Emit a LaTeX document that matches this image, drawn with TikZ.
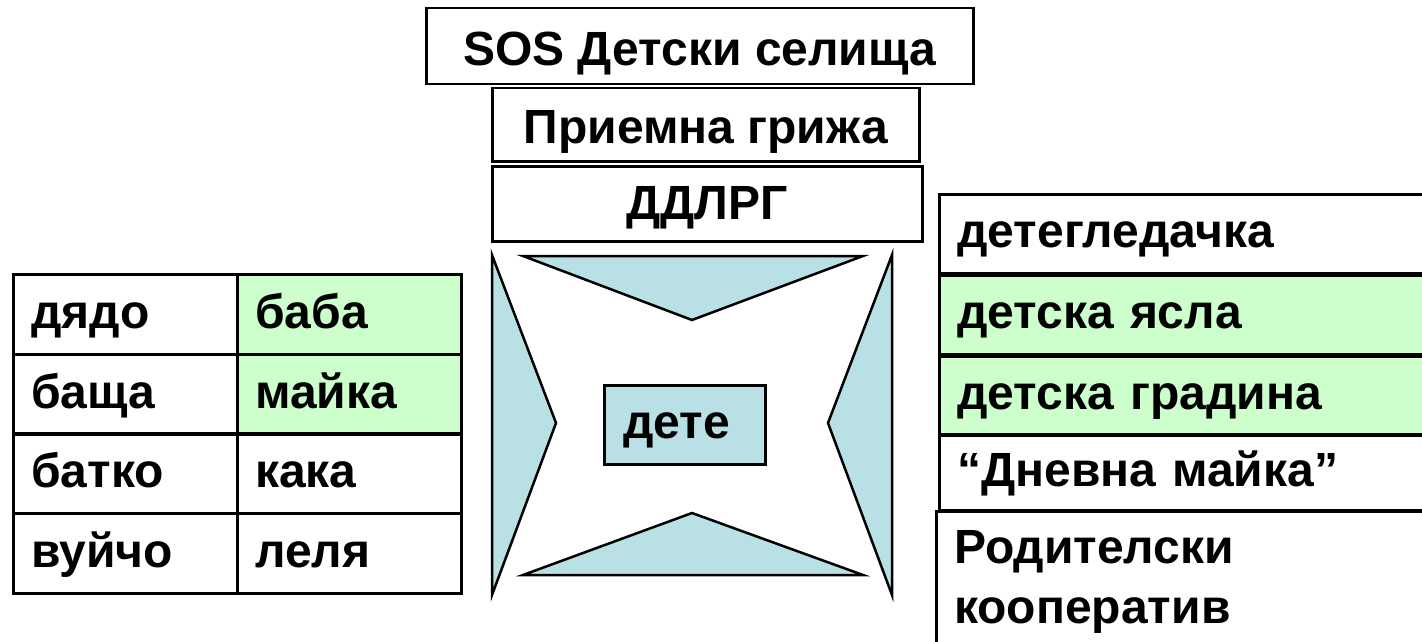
\documentclass[tikz,border=0pt]{standalone}
\usepackage{fontspec}
\setmainfont{Liberation Sans}
\definecolor{paleg}{RGB}{204,255,204}
\definecolor{paleb}{RGB}{185,224,228}
\begin{document}
\begin{tikzpicture}[x=1pt,y=-1pt,
  txt/.style={font=\fontsize{48}{60}\selectfont\bfseries},
  box/.style={draw=black, line width=2.5pt, anchor=north west, inner ysep=0pt, txt},
  fix/.style={text height=40pt, text depth=12pt},
  topfix/.style={text height=48pt, text depth=10pt},
  lbox/.style={box, fix, align=left, inner xsep=18pt},
  cbox/.style={box, topfix, align=center, inner xsep=0pt},
  tri/.style={draw=black, line width=2.5pt, fill=paleb, line join=miter}]
\useasboundingbox (0,0) rectangle (1422,642);
% top stack
\node[cbox, minimum width=547pt, minimum height=76pt] (sos) at (425,7) {SOS Детски селища};
\node[cbox, minimum width=427pt, minimum height=73pt] (pg) at (491,87) {Приемна грижа};
\node[cbox, text height=44pt, text depth=12pt, minimum width=430pt, minimum height=75pt] (dd) at (491,165) {ДДЛРГ};
% left table
\node[lbox, text width=188pt, minimum height=80pt] (dyado) at (12,273) {дядо};
\node[lbox, text width=188pt, minimum height=80pt] (bashta) at (12,353) {баща};
\node[lbox, text width=188pt, minimum height=80pt] (batko) at (12,432) {батко};
\node[lbox, text width=188pt, minimum height=80pt] (vuycho) at (12,512) {вуйчо};
\node[lbox, fill=paleg, text width=188pt, minimum height=80pt] (baba) at (236,273) {баба};
\node[lbox, fill=paleg, text width=188pt, minimum height=80pt] (mayka) at (236,353) {майка};
\node[lbox, text width=188pt, minimum height=80pt] (kaka) at (236,432) {кака};
\node[lbox, text width=188pt, minimum height=80pt] (lelya) at (236,512) {леля};
% centre triangles
\draw[tri] (523,256) -- (863,256) -- (692,320) -- cycle;
\draw[tri] (523,575) -- (863,575) -- (692,513) -- cycle;
\draw[tri] (492,255) -- (556,423) -- (492,595) -- cycle;
\draw[tri] (892,255) -- (828,423) -- (892,595) -- cycle;
\node[lbox, fill=paleb, inner xsep=19pt, text width=123pt, minimum height=79pt] (dete) at (603,384) {дете};
% right column
\node[lbox, text width=456pt, minimum height=79pt] (r1) at (938,193) {детегледачка};
\node[lbox, fill=paleg, text width=456pt, minimum height=79pt] (r2) at (938,274) {детска ясла};
\node[lbox, fill=paleg, text width=456pt, minimum height=78pt] (r3) at (938,355) {детска градина};
\node[lbox, text width=456pt, minimum height=75pt] (r4) at (938,434) {“Дневна майка”};
\node[box, align=left, inner xsep=18pt, text width=459pt, minimum height=141pt] (r5) at (935,510) {Родителски\\кооператив};
\end{tikzpicture}
\end{document}
